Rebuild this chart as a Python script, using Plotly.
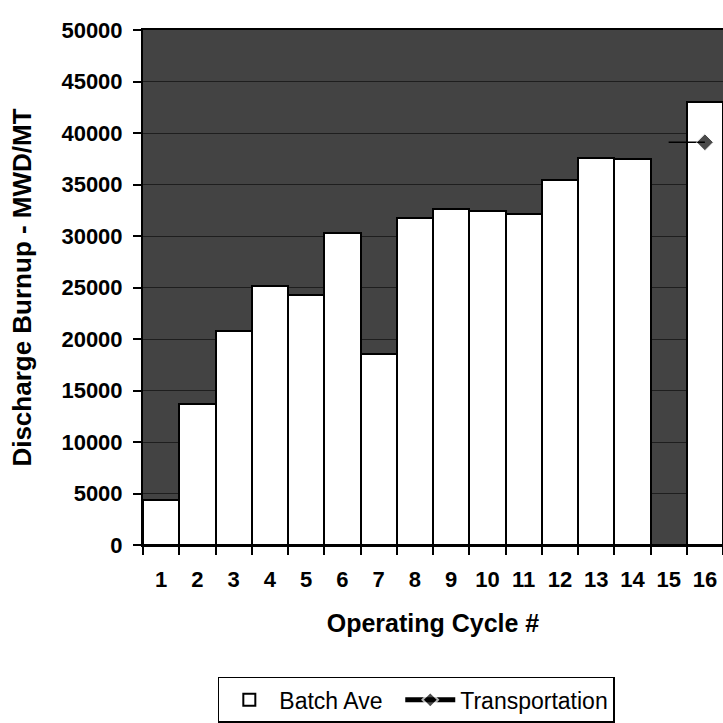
import plotly.graph_objects as go

cycles = [str(i) for i in range(1, 17)]
batch_ave = [4400, 13700, 20800, 25100, 24300, 30300, 18500, 31700,
             32600, 32400, 32150, 35400, 37600, 37450, 0, 43000]
transportation = [None] * 14 + [39100, 39100]
transport_marker_sizes = [0] * 15 + [13]

FONT = "Liberation Sans, Arial, sans-serif"

fig = go.Figure()
fig.add_trace(go.Bar(
    x=cycles, y=batch_ave, name="Batch Ave\u00a0\u00a0",
    marker=dict(color="white", line=dict(color="black", width=2)),
))
fig.add_trace(go.Scatter(
    x=cycles, y=transportation, name="Transportation",
    mode="lines+markers",
    line=dict(color="black", width=1.5),
    marker=dict(symbol="diamond", color="black", size=transport_marker_sizes),
))

fig.update_layout(
    width=723, height=723,
    margin=dict(l=143, r=0, t=30, b=176),
    paper_bgcolor="white",
    plot_bgcolor="#434343",
    bargap=0,
    showlegend=True,
    legend=dict(
        orientation="h",
        x=0.129, xanchor="left",
        y=-0.256, yanchor="top",
        bordercolor="black", borderwidth=1.5,
        bgcolor="white",
        font=dict(family=FONT, size=23, color="black"),
        itemwidth=50,
        itemsizing="constant",
    ),
    font=dict(family=FONT, color="black"),
)

fig.update_xaxes(
    type="category",
    range=[-0.5, 15.5],
    automargin=False,
    tickson="boundaries",
    ticks="outside", ticklen=8, tickwidth=2, tickcolor="black",
    ticklabelstandoff=14,
    showline=True, linecolor="black", linewidth=2, mirror=True,
    showgrid=False,
    tickfont=dict(family=FONT, size=22, weight="bold", color="black"),
    title=dict(text="Operating Cycle #",
               font=dict(family=FONT, size=25, weight="bold", color="black"),
               standoff=23),
)

fig.update_yaxes(
    range=[0, 50000],
    dtick=5000,
    tickformat="d",
    automargin=False,
    ticks="outside", ticklen=8, tickwidth=2, tickcolor="black",
    ticklabelstandoff=6,
    showline=True, linecolor="black", linewidth=2,
    showgrid=True, gridcolor="#1e1e1e", gridwidth=1,
    zeroline=False,
    tickfont=dict(family=FONT, size=22, weight="bold", color="black"),
    title=dict(text="Discharge Burnup - MWD/MT",
               font=dict(family=FONT, size=26, weight="bold", color="black"),
               standoff=22),
)

fig.write_html(
    "out.html",
    config={"displayModeBar": False},
    post_script="document.body.style.margin='0';document.body.style.overflow='hidden';",
)
